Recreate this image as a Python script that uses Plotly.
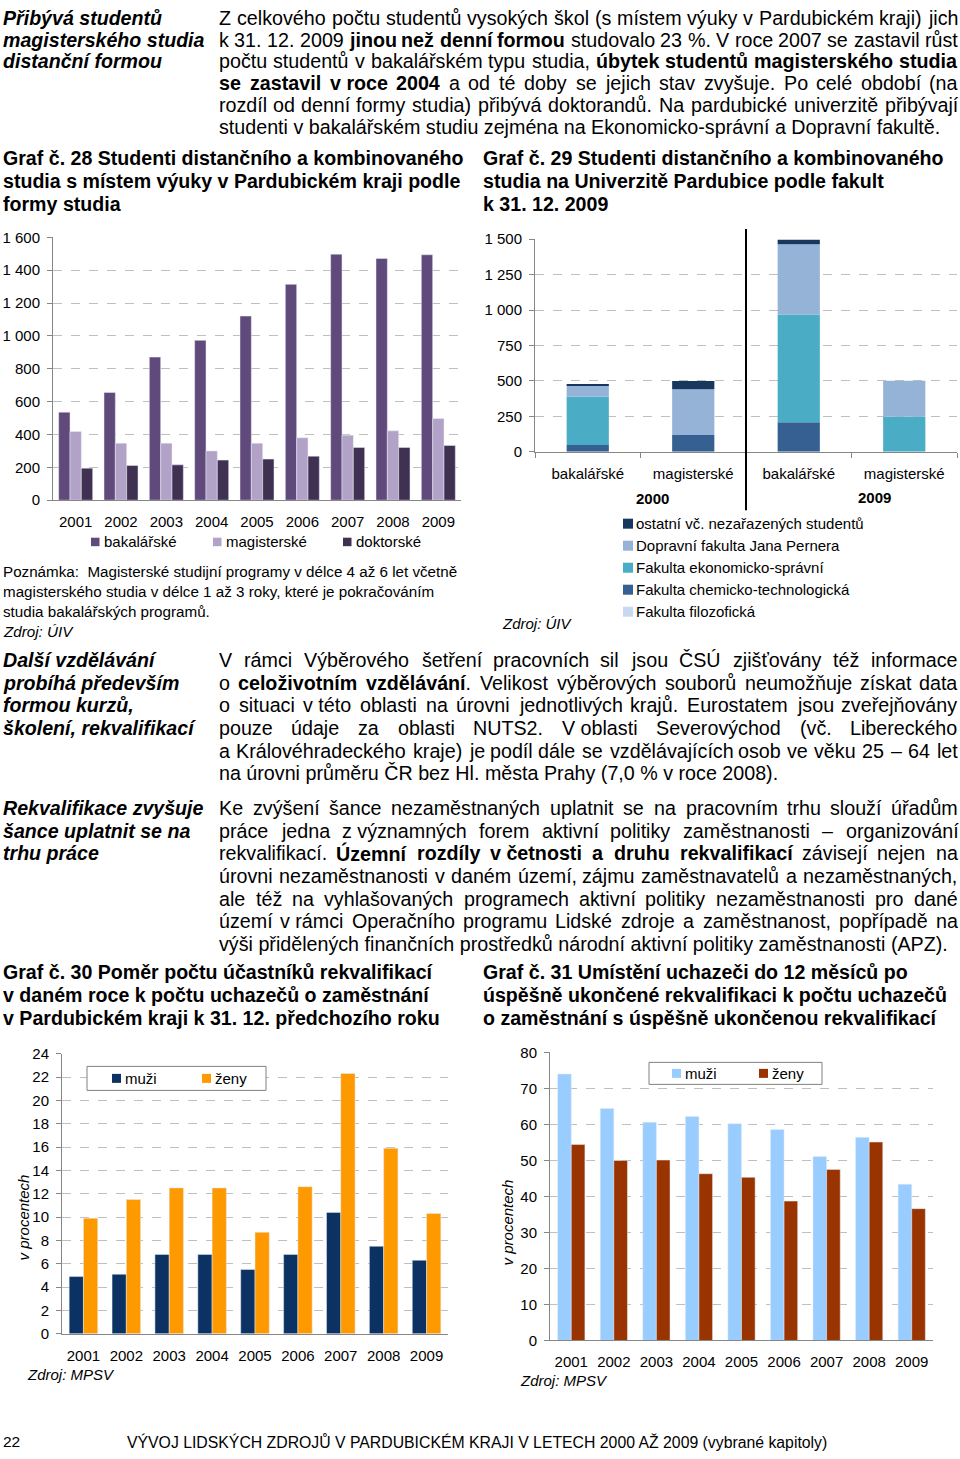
import re
import unicodedata
import plotly.graph_objects as go

W, H = 960, 1459
# the photographed page shows the figure vertically compressed (fig y 0 -> 9 px, scale 0.988);
# positions below are given in reference-picture pixels and mapped back to figure pixels
OFF, SC = 9.0, 0.988


def px(x):
    return x / W


def fy(y):
    return (y - OFF) / SC


def py(y):
    return 1 - fy(y) / H


def pyf(yf):
    return 1 - yf / H


# ---------------- data ----------------
years = ["2001", "2002", "2003", "2004", "2005", "2006", "2007", "2008", "2009"]

# Graf 28
stud_bak = [536, 656, 871, 973, 1121, 1314, 1498, 1472, 1494]
stud_mag = [418, 347, 347, 300, 347, 380, 396, 422, 497]
stud_dok = [195, 211, 215, 244, 250, 268, 321, 321, 333]

# Graf 29
fac_types = ["bakalářské", "magisterské", "bakalářské", "magisterské"]
fac_years = ["2000", "2009"]
fac_chem = [49, 118, 209, 0]
fac_ekon = [339, 0, 760, 247]
fac_dopr = [78, 324, 494, 254]
fac_ost = [9, 57, 33, 0]
fac_filo = [0, 0, 0, 0]

# Graf 30
rek_muzi = [4.9, 5.1, 6.8, 6.8, 5.5, 6.8, 10.4, 7.5, 6.3]
rek_zeny = [9.9, 11.5, 12.5, 12.5, 8.7, 12.6, 22.3, 15.9, 10.3]

# Graf 31
umi_muzi = [74.0, 64.4, 60.6, 62.2, 60.2, 58.6, 51.1, 56.4, 43.4]
umi_zeny = [54.4, 50.0, 50.1, 46.3, 45.3, 38.7, 47.5, 55.1, 36.6]

# ---------------- styles ----------------
ARIAL = "Liberation Sans, Arial, sans-serif"
AX = "#868686"
GRID = "#BFBFBF"

C_BAK, C_MAG, C_DOK = "#604A7B", "#B3A2C7", "#403152"
C_CHEM, C_EKON, C_DOPR, C_OST, C_FILO = "#376092", "#4BACC6", "#95B3D7", "#17375E", "#C6D9F1"
C30_M, C30_Z = "#0C3263", "#FF9900"
C31_M, C31_Z = "#99CCFF", "#993300"

fig = go.Figure()

# Graf 28
for vals, col, off, name in [(stud_bak, C_BAK, -0.375, "bakalářské"),
                             (stud_mag, C_MAG, -0.125, "magisterské"),
                             (stud_dok, C_DOK, 0.125, "doktorské")]:
    fig.add_trace(go.Bar(x=years, y=vals, name=name, marker_color=col, width=0.25,
                         offset=off, xaxis="x", yaxis="y", showlegend=False))

# Graf 29 (stacked via base)
pos = [0, 1, 2, 3]
b1 = fac_chem
b2 = [a + b for a, b in zip(b1, fac_ekon)]
b3 = [a + b for a, b in zip(b2, fac_dopr)]
b4 = [a + b for a, b in zip(b3, fac_ost)]
for vals, base, col, name in [(fac_chem, [0, 0, 0, 0], C_CHEM, "Fakulta chemicko-technologická"),
                              (fac_ekon, b1, C_EKON, "Fakulta ekonomicko-správní"),
                              (fac_dopr, b2, C_DOPR, "Dopravní fakulta Jana Pernera"),
                              (fac_ost, b3, C_OST, "ostatní vč. nezařazených studentů"),
                              (fac_filo, b4, C_FILO, "Fakulta filozofická")]:
    fig.add_trace(go.Bar(x=pos, y=vals, base=base, name=name, marker_color=col,
                         marker_line_width=0, width=0.4, offset=-0.2,
                         xaxis="x2", yaxis="y2", showlegend=False))

# Graf 30
fig.add_trace(go.Bar(x=years, y=rek_muzi, name="muži", marker_color=C30_M, width=0.333,
                     offset=-0.333, xaxis="x3", yaxis="y3", showlegend=False))
fig.add_trace(go.Bar(x=years, y=rek_zeny, name="ženy", marker_color=C30_Z, width=0.333,
                     offset=0, xaxis="x3", yaxis="y3", showlegend=False))

# Graf 31
fig.add_trace(go.Bar(x=years, y=umi_muzi, name="muži", marker_color=C31_M, width=0.32,
                     offset=-0.32, xaxis="x4", yaxis="y4", showlegend=False))
fig.add_trace(go.Bar(x=years, y=umi_zeny, name="ženy", marker_color=C31_Z, width=0.32,
                     offset=0, xaxis="x4", yaxis="y4", showlegend=False))

tickfont = dict(family=ARIAL, size=15, color="#000000")


def yax(dom, rng, dtick, anchor):
    return dict(domain=dom, range=rng, dtick=dtick, tick0=0, anchor=anchor,
                showline=True, linecolor=AX, linewidth=1, ticks="outside", ticklen=5,
                tickcolor=AX, showgrid=True, gridcolor=GRID, griddash="dash", gridwidth=1,
                tickfont=tickfont, zeroline=False, tickformat=",d", ticklabelstandoff=4,
                fixedrange=True)


def xax(dom, anchor):
    return dict(domain=dom, anchor=anchor, showline=True, linecolor=AX, linewidth=1,
                ticks="", tickfont=tickfont, showgrid=False, zeroline=False,
                ticklabelstandoff=8, fixedrange=True)


layout = dict(
    width=W, height=H, autosize=False, margin=dict(l=0, r=0, t=0, b=0, pad=0),
    paper_bgcolor="white", plot_bgcolor="white",
    barmode="overlay", separators=", ",
    font=dict(family=ARIAL, size=15, color="#000000"),
    xaxis=dict(xax([px(53), px(461)], "y"), type="category", range=[-0.5, 8.5]),
    yaxis=yax([py(500), py(237.3)], [0, 1600], 200, "x"),
    xaxis2=dict(xax([px(535), px(957)], "y2"), range=[-0.5, 3.5], tickvals=pos,
                ticktext=fac_types,
                minor=dict(tickvals=[-0.5, 0.5, 1.5, 2.5, 3.5], ticks="outside",
                           ticklen=5, tickcolor=AX, showgrid=False)),
    yaxis2=yax([py(451.7), py(239)], [0, 1500], 250, "x2"),
    xaxis3=dict(xax([px(62), px(448)], "y3"), type="category", range=[-0.5, 8.5]),
    yaxis3=yax([py(1333.3), py(1053.3)], [0, 24], 2, "x3"),
    xaxis4=dict(xax([px(550), px(933)], "y4"), type="category", range=[-0.5, 8.5]),
    yaxis4=yax([py(1340), py(1052)], [0, 80], 10, "x4"),
)
fig.update_layout(**layout)

ann = []
shapes = []

# ---------- Arial-metric advance widths (1/1000 em) for justification ----------
_UP_R = dict(zip("ABCDEFGHIJKLMNOPQRSTUVWXYZ",
                 [667, 667, 722, 722, 667, 611, 778, 722, 278, 500, 667, 556, 833, 722, 778,
                  667, 778, 722, 667, 611, 722, 667, 944, 667, 667, 611]))
_LO_R = dict(zip("abcdefghijklmnopqrstuvwxyz",
                 [556, 556, 500, 556, 556, 278, 556, 556, 222, 222, 500, 222, 833, 556, 556,
                  556, 556, 333, 500, 278, 556, 500, 722, 500, 500, 500]))
_UP_B = dict(zip("ABCDEFGHIJKLMNOPQRSTUVWXYZ",
                 [722, 722, 722, 722, 667, 611, 778, 722, 278, 556, 722, 611, 833, 722, 778,
                  667, 778, 722, 667, 611, 722, 667, 944, 667, 667, 611]))
_LO_B = dict(zip("abcdefghijklmnopqrstuvwxyz",
                 [556, 611, 556, 611, 556, 333, 611, 611, 278, 278, 556, 278, 889, 611, 611,
                  611, 611, 389, 556, 333, 611, 556, 778, 556, 556, 500]))
_PUN_R = {" ": 278, "\u00a0": 278, "(": 333, ")": 333, ",": 278, "-": 333, ".": 278,
          "%": 889, ":": 278, "–": 556, "ť": 360}
_PUN_B = {" ": 278, "\u00a0": 278, "(": 333, ")": 333, ",": 278, "-": 333, ".": 278,
          "%": 889, ":": 333, "–": 556, "ť": 430}
REG_W = {**_UP_R, **_LO_R, **_PUN_R, **{d: 556 for d in "0123456789"}}
BOLD_W = {**_UP_B, **_LO_B, **_PUN_B, **{d: 556 for d in "0123456789"}}


def char_w(ch, bold):
    tbl = BOLD_W if bold else REG_W
    if ch in tbl:
        return tbl[ch]
    base = unicodedata.normalize("NFD", ch)[0]
    return tbl.get(base, 556)


def text(x, y, s, size=19.7, family=ARIAL, xanchor="left", color="#000000", angle=0,
         fig_y=False):
    yy = pyf(y) if fig_y else py(y)
    ann.append(dict(x=px(x), y=yy, xref="paper", yref="paper", text=s, showarrow=False,
                    xanchor=xanchor, yanchor="middle", textangle=angle, borderpad=0,
                    borderwidth=0, font=dict(family=family, size=size, color=color)))


def lines(x, y0, step, items, **kw):
    for i, s in enumerate(items):
        text(x, y0 + i * step, s, **kw)


def parse(s):
    out, bold = [], False
    for part in re.split(r"(<b>|</b>)", s):
        if part == "<b>":
            bold = True
        elif part == "</b>":
            bold = False
        else:
            out.extend((c, bold) for c in part)
    return out


def word_markup(chars):
    res, cur, curb = "", "", None
    for c, b in chars:
        if b != curb and cur:
            res += ("<b>%s</b>" % cur) if curb else cur
            cur = ""
        cur += c
        curb = b
    if cur:
        res += ("<b>%s</b>" % cur) if curb else cur
    return res


def justified(x0, x1, y, s, size, fig_y=False):
    chars = parse(s)
    words, cur = [], []
    for c, b in chars:
        if c == " ":
            if cur:
                words.append(cur)
            cur = []
        else:
            cur.append((c, b))
    if cur:
        words.append(cur)
    widths = [sum(char_w(c, b) for c, b in w) * size / 1000 for w in words]
    gap = (x1 - x0 - sum(widths)) / (len(words) - 1)
    xx = x0
    for w, wd in zip(words, widths):
        text(xx, y, word_markup(w), size=size, fig_y=fig_y)
        xx += wd + gap


def paragraph(x0, x1, y0, step, items, size, fig_y=False):
    for i, s in enumerate(items):
        y = y0 + i * step
        if i < len(items) - 1:
            justified(x0, x1, y, s, size, fig_y=fig_y)
        else:
            text(x0, y, s, size=size, fig_y=fig_y)


def square(x0, y0, x1, y1, col, line=None):
    shapes.append(dict(type="rect", xref="paper", yref="paper", x0=px(x0), x1=px(x1),
                       y0=py(y1), y1=py(y0), fillcolor=col,
                       line=dict(width=1 if line else 0, color=line or col), layer="above"))


BODY = 19.7
HEAD = 19.6
NB = "\u00a0"
BX0, BX1 = 219, 957.5

# ---- block 1 (top of the page: kept just inside the figure, figure pixels) ----
lines(3, 9, 22, ["<b><i>Přibývá studentů</i></b>", "<b><i>magisterského studia</i></b>",
                 "<b><i>distanční formou</i></b>"], size=HEAD, fig_y=True)
paragraph(BX0, BX1, 9, 22, [
    "Z celkového počtu studentů vysokých škol (s místem výuky v Pardubickém kraji) jich",
    "k 31. 12. 2009 <b>jinou než denní formou</b> studovalo 23 %. V roce 2007 se zastavil růst",
    "počtu studentů v bakalářském typu studia, <b>úbytek studentů magisterského studia</b>",
    "<b>se zastavil v" + NB + "roce 2004</b> a od té doby se jejich stav zvyšuje. Po celé období (na",
    "rozdíl od denní formy studia) přibývá doktorandů. Na pardubické univerzitě přibývají",
    "studenti v bakalářském studiu zejména na Ekonomicko-správní a Dopravní fakultě.",
], BODY, fig_y=True)

# ---- titles 28 / 29 ----
lines(3, 158, 23, ["<b>Graf č. 28 Studenti distančního a kombinovaného</b>",
                   "<b>studia s místem výuky v Pardubickém kraji podle</b>",
                   "<b>formy studia</b>"], size=HEAD)
lines(483, 158, 23, ["<b>Graf č. 29 Studenti distančního a kombinovaného</b>",
                     "<b>studia na Univerzitě Pardubice podle fakult</b>",
                     "<b>k 31. 12. 2009</b>"], size=HEAD)

# ---- legend 28 ----
for (sx, tx, col, name) in [(91, 104, C_BAK, "bakalářské"), (213, 226, C_MAG, "magisterské"),
                            (343, 356, C_DOK, "doktorské")]:
    square(sx, 537.5, sx + 8.5, 546, col)
    text(tx, 541.7, name, size=15)

# ---- graf 29 extras ----
shapes.append(dict(type="line", xref="x2", yref="paper", x0=1.5, x1=1.5,
                   y0=py(510), y1=py(229), line=dict(color="#000000", width=2)))
text(652, 498, "<b>" + fac_years[0] + "</b>", size=15, xanchor="center")
text(874, 497, "<b>" + fac_years[1] + "</b>", size=15, xanchor="center")
for i, (col, name) in enumerate([(C_OST, "ostatní vč. nezařazených studentů"),
                                 (C_DOPR, "Dopravní fakulta Jana Pernera"),
                                 (C_EKON, "Fakulta ekonomicko-správní"),
                                 (C_CHEM, "Fakulta chemicko-technologická"),
                                 (C_FILO, "Fakulta filozofická")]):
    yy = 523.5 + i * 22
    square(623, yy - 5, 633, yy + 5, col)
    text(636, yy, name, size=15)
text(502, 623, "<i>Zdroj: ÚIV</i>", size=15)

# ---- poznámka ----
lines(3, 571, 20, ["Poznámka:  Magisterské studijní programy v" + NB + "délce 4 až 6 let včetně",
                   "magisterského studia v" + NB + "délce 1 až 3 roky, které je pokračováním",
                   "studia bakalářských programů.",
                   "<i>Zdroj: ÚIV</i>"], size=15.2)

# ---- block 2 ----
lines(3, 660, 22.6, ["<b><i>Další vzdělávání</i></b>", "<b><i>probíhá především</i></b>",
                     "<b><i>formou kurzů,</i></b>", "<b><i>školení, rekvalifikací</i></b>"],
      size=HEAD)
paragraph(BX0, BX1, 660, 22.6, [
    "V rámci Výběrového šetření pracovních sil jsou ČSÚ zjišťovány též informace",
    "o <b>celoživotním vzdělávání</b>. Velikost výběrových souborů neumožňuje získat data",
    "o situaci v" + NB + "této oblasti na úrovni jednotlivých krajů. Eurostatem jsou zveřejňovány",
    "pouze údaje za oblasti NUTS2. V" + NB + "oblasti Severovýchod (vč. Libereckého",
    "a Královéhradeckého kraje) je podíl dále se vzdělávajících osob ve věku 25 – 64 let",
    "na úrovni průměru ČR bez Hl. města Prahy (7,0 % v" + NB + "roce 2008).",
], BODY)

# ---- block 3 ----
lines(3, 808, 22.6, ["<b><i>Rekvalifikace zvyšuje</i></b>", "<b><i>šance uplatnit se na</i></b>",
                     "<b><i>trhu práce</i></b>"], size=HEAD)
paragraph(BX0, BX1, 808, 22.6, [
    "Ke zvýšení šance nezaměstnaných uplatnit se na pracovním trhu slouží úřadům",
    "práce jedna z" + NB + "významných forem aktivní politiky zaměstnanosti – organizování",
    "rekvalifikací. <b>Územní rozdíly v" + NB + "četnosti a druhu rekvalifikací</b> závisejí nejen na",
    "úrovni nezaměstnanosti v daném území, zájmu zaměstnavatelů a nezaměstnaných,",
    "ale též na vyhlašovaných programech aktivní politiky nezaměstnanosti pro dané",
    "území v" + NB + "rámci Operačního programu Lidské zdroje a zaměstnanost, popřípadě na",
    "výši přidělených finančních prostředků národní aktivní politiky zaměstnanosti (APZ).",
], BODY)

# ---- titles 30 / 31 ----
lines(3, 972, 23, ["<b>Graf č. 30 Poměr počtu účastníků rekvalifikací</b>",
                   "<b>v daném roce k počtu uchazečů o zaměstnání</b>",
                   "<b>v Pardubickém kraji k 31. 12. předchozího roku</b>"], size=HEAD)
lines(483, 972, 23, ["<b>Graf č. 31 Umístění uchazeči do 12 měsíců po</b>",
                     "<b>úspěšně ukončené rekvalifikaci k počtu uchazečů</b>",
                     "<b>o zaměstnání s úspěšně ukončenou rekvalifikací</b>"], size=HEAD)

# ---- graf 30 extras ----
square(87, 1066, 266, 1090, "white", line="#808080")
square(112, 1073.5, 121, 1082.5, C30_M)
text(125, 1078, "muži", size=15)
square(202, 1073.5, 211, 1082.5, C30_Z)
text(215, 1078, "ženy", size=15)
text(23, 1217, "<i>v procentech</i>", size=15, xanchor="center", angle=-90)
text(27, 1374, "<i>Zdroj: MPSV</i>", size=15)

# ---- graf 31 extras ----
square(649, 1062, 822, 1084, "white", line="#808080")
square(672, 1068.5, 681, 1077.5, C31_M)
text(685, 1073, "muži", size=15)
square(759, 1068.5, 768, 1077.5, C31_Z)
text(772, 1073, "ženy", size=15)
text(507, 1222, "<i>v procentech</i>", size=15, xanchor="center", angle=-90)
text(520, 1380, "<i>Zdroj: MPSV</i>", size=15)

# ---- footer (bottom edge of the figure, figure pixels) ----
text(3, 1449.5, "22", size=15.5, fig_y=True)
text(127, 1449.5, "VÝVOJ LIDSKÝCH ZDROJŮ V PARDUBICKÉM KRAJI V LETECH 2000 AŽ 2009 (vybrané kapitoly)",
     size=15.8, fig_y=True)

fig.update_layout(annotations=ann, shapes=shapes)

POST = ("var d=document.getElementById('{plot_id}');"
        "d.style.position='absolute';d.style.left='0px';d.style.top='0px';"
        "document.body.style.margin='0px';document.body.style.padding='0px';"
        "document.documentElement.style.overflow='hidden';"
        "document.body.style.overflow='hidden';")
fig.write_html("out.html", config={"displayModeBar": False, "responsive": False},
               post_script=POST)
